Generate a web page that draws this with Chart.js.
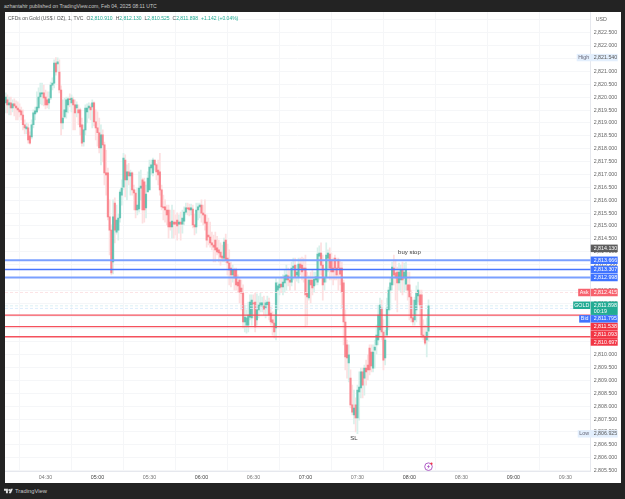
<!DOCTYPE html>
<html>
<head>
<meta charset="utf-8">
<title>CFDs on Gold</title>
<script src="https://cdn.jsdelivr.net/npm/chart.js@4/dist/chart.umd.min.js"></script>
<style>
    html, body { margin: 0; padding: 0; width: 625px; height: 499px; overflow: hidden; background: #232323; }
    body { position: relative; font-family: "Liberation Sans", sans-serif; }
    #published { position: absolute; left: 4px; top: 3px; font-size: 5.1px; line-height: 7px; color: #c8c8c8; white-space: nowrap; }
    #panel { position: absolute; left: 5px; top: 12px; width: 616px; height: 471px; background: #fff; }
    #legend { position: absolute; left: 8px; top: 15px; font-size: 5px; line-height: 7px; color: #555; white-space: nowrap; }
    #legend b { font-weight: normal; color: #22ab94; }
    #legend span { margin-left: 3px; }
    #brand { position: absolute; left: 4px; top: 487px; height: 8px; color: #c8c8c8; font-size: 5.8px; line-height: 8px; white-space: nowrap; }
    #brand svg { position: absolute; left: 0; top: 1px; }
    #brand span { position: absolute; left: 11px; top: 0; }
</style>
</head>
<body>
<div id="published">azhantahir published on TradingView.com, Feb 04, 2025 08:11 UTC</div>
<canvas id="panel" width="616" height="471"></canvas>
<div id="legend">CFDs on Gold (US$ / OZ), 1, TVC<span>O<b>2,810.910</b></span><span>H<b>2,812.130</b></span><span>L<b>2,810.525</b></span><span>C<b>2,811.898</b></span><span><b>+1.142 (+0.04%)</b></span></div>
<div id="brand">
    <svg width="10" height="6" viewBox="0 0 36 20"><path fill="#e0e0e0" d="M0 2h14v16H7V9H0zM17 18l7-16h8l-7 16z"/><circle cx="19" cy="6" r="3.6" fill="#e0e0e0"/></svg>
    <span>TradingView</span>
</div>

<script>
// one candle per minute, first one at 04:07
const firstMinute = 247;

const opens = [
    2819.78, 2819.90, 2819.70, 2819.78, 2819.58, 2819.74, 2819.66, 2819.58, 2819.51, 2819.47,
    2819.31, 2818.93, 2818.77, 2818.81, 2818.50, 2818.46, 2818.93, 2819.35, 2819.43, 2819.58,
    2820.01, 2820.13, 2820.17, 2820.01, 2819.90, 2819.78, 2819.97, 2820.47, 2820.55, 2821.33,
    2821.29, 2820.98, 2820.28, 2819.00, 2819.23, 2819.43, 2819.70, 2819.94, 2819.78, 2819.90,
    2819.70, 2819.58, 2819.51, 2819.51, 2818.93, 2818.26, 2818.73, 2819.43, 2819.58, 2819.62,
    2819.62, 2819.78, 2819.04, 2818.81, 2818.62, 2818.03, 2818.54, 2818.15, 2817.06, 2817.06,
    2815.35, 2814.84, 2813.60, 2815.89, 2814.76, 2814.84, 2815.31, 2816.20, 2816.51, 2817.56,
    2816.79, 2817.10, 2816.94, 2817.06, 2816.40, 2816.28, 2815.62, 2815.66, 2816.47, 2816.79,
    2816.71, 2815.70, 2816.32, 2816.40, 2817.25, 2817.06, 2817.56, 2817.37, 2817.17, 2817.10,
    2816.40, 2815.74, 2815.74, 2815.62, 2815.62, 2815.15, 2814.96, 2815.15, 2815.15, 2815.23,
    2815.07, 2815.15, 2815.07, 2815.19, 2815.54, 2815.70, 2815.70, 2815.62, 2815.66, 2815.04,
    2814.96, 2815.62, 2815.74, 2815.81, 2815.50, 2815.43, 2815.15, 2814.65, 2814.57, 2814.34,
    2814.26, 2814.45, 2814.15, 2814.07, 2813.99, 2813.83, 2813.75, 2814.45, 2813.75, 2813.56,
    2813.36, 2813.10, 2813.29, 2813.29, 2812.82, 2812.90, 2812.59, 2812.39, 2811.27, 2811.15,
    2811.15, 2811.46, 2811.43, 2812.01, 2812.04, 2811.35, 2811.74, 2811.89, 2811.89, 2811.89,
    2811.81, 2811.93, 2812.04, 2811.62, 2811.35, 2811.23, 2811.04, 2812.51, 2812.59, 2812.74,
    2812.63, 2812.79, 2812.90, 2813.06, 2812.90, 2812.82, 2813.36, 2813.48, 2813.10, 2813.02,
    2813.52, 2813.48, 2813.36, 2813.36, 2812.39, 2812.20, 2812.90, 2812.90, 2812.67, 2812.90,
    2812.82, 2813.83, 2813.95, 2813.48, 2812.82, 2813.02, 2813.75, 2813.91, 2813.68, 2813.36,
    2813.75, 2813.36, 2813.68, 2813.36, 2813.36, 2812.79, 2811.27, 2810.38, 2809.68, 2809.09,
    2808.05, 2807.66, 2808.05, 2807.54, 2808.55, 2808.71, 2809.33, 2809.09, 2809.48, 2809.60,
    2810.26, 2810.10, 2809.48, 2810.18, 2810.38, 2810.57, 2810.96, 2811.81, 2810.88, 2809.87,
    2810.76, 2811.74, 2812.51, 2812.71, 2813.36, 2813.18, 2813.21, 2812.79, 2812.90, 2813.29,
    2812.98, 2812.74, 2812.71, 2812.71, 2812.24, 2811.43, 2811.35, 2811.74, 2812.28, 2812.32,
    2812.32, 2810.76, 2810.69, 2810.57, 2810.91
];

const closes = [
    2820.01, 2819.70, 2819.78, 2819.58, 2819.74, 2819.66, 2819.58, 2819.51, 2819.43, 2819.31,
    2818.93, 2818.81, 2818.85, 2818.34, 2818.22, 2818.93, 2819.39, 2819.47, 2819.62, 2820.01,
    2820.17, 2820.17, 2819.97, 2819.70, 2819.70, 2819.94, 2820.47, 2820.55, 2821.33, 2820.98,
    2821.37, 2820.28, 2819.00, 2819.19, 2819.51, 2819.90, 2819.94, 2819.90, 2819.97, 2819.70,
    2819.39, 2819.70, 2819.39, 2818.85, 2818.22, 2818.73, 2819.58, 2819.58, 2819.66, 2819.51,
    2819.78, 2819.04, 2818.81, 2818.62, 2818.03, 2818.54, 2818.15, 2817.06, 2816.98, 2815.35,
    2814.84, 2813.18, 2815.35, 2814.84, 2815.23, 2815.31, 2816.32, 2816.47, 2817.64, 2816.79,
    2817.10, 2816.94, 2817.06, 2816.40, 2816.28, 2815.62, 2815.81, 2816.47, 2816.55, 2815.62,
    2815.62, 2816.24, 2816.86, 2817.29, 2817.37, 2817.56, 2817.37, 2817.10, 2816.98, 2816.40,
    2815.74, 2815.70, 2815.62, 2815.43, 2814.96, 2814.96, 2815.19, 2815.07, 2815.07, 2815.00,
    2815.15, 2815.07, 2815.31, 2815.54, 2815.70, 2815.66, 2815.62, 2815.70, 2815.04, 2814.96,
    2815.62, 2815.74, 2815.81, 2815.50, 2815.43, 2815.11, 2814.45, 2814.57, 2814.34, 2814.26,
    2814.18, 2814.07, 2813.99, 2813.95, 2813.79, 2813.75, 2814.37, 2813.68, 2813.56, 2813.29,
    2813.10, 2813.29, 2812.98, 2812.71, 2812.67, 2812.43, 2812.39, 2811.27, 2811.46, 2811.43,
    2811.54, 2812.04, 2812.12, 2811.97, 2811.08, 2811.74, 2811.93, 2812.01, 2812.01, 2811.77,
    2812.01, 2812.04, 2811.54, 2811.27, 2811.23, 2810.88, 2812.79, 2812.67, 2812.74, 2812.63,
    2812.82, 2813.06, 2813.10, 2812.90, 2812.82, 2813.36, 2813.44, 2813.02, 2813.21, 2813.52,
    2813.36, 2813.21, 2813.29, 2812.32, 2812.24, 2812.90, 2812.71, 2812.59, 2812.94, 2813.02,
    2813.91, 2813.95, 2813.48, 2812.71, 2812.98, 2813.87, 2813.95, 2813.36, 2813.21, 2813.21,
    2813.36, 2813.10, 2813.36, 2813.13, 2812.43, 2811.27, 2809.91, 2809.87, 2809.99, 2808.05,
    2807.77, 2807.93, 2807.54, 2808.63, 2808.74, 2809.33, 2808.82, 2809.48, 2809.33, 2809.41,
    2809.41, 2809.56, 2810.10, 2810.30, 2810.76, 2811.54, 2811.93, 2810.88, 2809.79, 2810.57,
    2811.81, 2812.51, 2812.79, 2813.40, 2813.10, 2812.98, 2812.79, 2813.21, 2813.29, 2812.90,
    2813.21, 2813.29, 2812.51, 2812.24, 2811.43, 2811.27, 2812.12, 2812.39, 2812.51, 2811.93,
    2810.76, 2810.69, 2810.45, 2810.88, 2811.898
];

const highs = [
    2820.17, 2820.09, 2820.01, 2820.01, 2819.90, 2819.94, 2819.86, 2819.82, 2819.74, 2819.62,
    2819.51, 2819.12, 2819.00, 2818.97, 2818.66, 2819.12, 2819.51, 2819.62, 2820.21, 2820.36,
    2820.55, 2820.55, 2820.47, 2820.28, 2820.21, 2820.21, 2820.59, 2820.75, 2821.45, 2821.54,
    2821.53, 2821.45, 2820.44, 2819.90, 2819.97, 2820.01, 2820.01, 2820.13, 2820.09, 2820.01,
    2819.90, 2819.82, 2819.70, 2819.58, 2819.19, 2818.93, 2819.70, 2819.74, 2819.78, 2819.74,
    2819.90, 2819.82, 2819.51, 2819.43, 2819.19, 2818.93, 2818.73, 2818.26, 2817.95, 2817.25,
    2816.01, 2815.04, 2816.01, 2816.09, 2815.81, 2815.46, 2816.40, 2816.79, 2817.82, 2817.76,
    2817.37, 2817.43, 2817.17, 2817.10, 2816.59, 2816.40, 2816.47, 2817.10, 2817.17, 2816.86,
    2816.86, 2816.59, 2817.10, 2817.56, 2817.56, 2817.64, 2817.56, 2817.43, 2817.56, 2817.82,
    2816.59, 2816.20, 2816.01, 2815.81, 2815.81, 2815.62, 2815.81, 2815.62, 2815.43, 2815.51,
    2815.43, 2815.54, 2815.62, 2815.74, 2815.89, 2815.89, 2815.85, 2815.85, 2815.81, 2815.46,
    2815.89, 2815.89, 2815.89, 2816.01, 2815.81, 2816.01, 2815.43, 2815.31, 2815.15, 2814.76,
    2814.65, 2814.76, 2814.60, 2814.45, 2814.34, 2814.26, 2814.53, 2814.68, 2814.30, 2814.07,
    2813.60, 2813.48, 2813.36, 2813.36, 2813.10, 2812.98, 2812.90, 2812.71, 2811.93, 2811.74,
    2812.04, 2812.32, 2812.32, 2812.32, 2812.39, 2812.36, 2812.28, 2812.39, 2812.24, 2812.28,
    2812.12, 2812.28, 2812.20, 2811.85, 2811.66, 2811.54, 2812.98, 2812.82, 2812.98, 2813.02,
    2813.10, 2813.29, 2813.48, 2813.36, 2813.29, 2813.60, 2813.75, 2813.75, 2813.48, 2813.75,
    2813.75, 2813.79, 2813.75, 2813.87, 2813.21, 2813.06, 2813.21, 2813.29, 2813.21, 2813.21,
    2814.15, 2814.23, 2814.34, 2813.87, 2813.36, 2814.34, 2814.07, 2814.15, 2813.95, 2813.75,
    2813.87, 2813.75, 2813.75, 2813.68, 2813.60, 2812.90, 2811.74, 2810.57, 2810.38, 2809.41,
    2808.82, 2808.63, 2808.32, 2808.82, 2809.33, 2809.48, 2809.48, 2809.60, 2809.79, 2809.99,
    2810.38, 2810.38, 2810.38, 2810.57, 2811.15, 2811.93, 2812.20, 2812.12, 2811.35, 2810.96,
    2812.20, 2812.63, 2812.98, 2813.60, 2813.87, 2813.68, 2813.40, 2813.56, 2813.48, 2813.60,
    2813.56, 2813.60, 2813.21, 2813.21, 2812.51, 2812.12, 2812.24, 2812.67, 2812.82, 2812.51,
    2812.51, 2811.35, 2811.15, 2811.43, 2812.13
];

const lows = [
    2819.39, 2819.39, 2819.31, 2819.31, 2819.43, 2819.27, 2819.12, 2819.12, 2819.23, 2819.12,
    2818.73, 2818.57, 2818.57, 2818.22, 2818.18, 2818.38, 2818.81, 2819.12, 2819.39, 2819.51,
    2819.74, 2819.70, 2819.66, 2819.55, 2819.58, 2819.55, 2819.90, 2820.28, 2820.36, 2820.86,
    2820.98, 2820.17, 2818.54, 2818.77, 2819.19, 2819.19, 2819.39, 2819.62, 2819.43, 2818.73,
    2818.73, 2819.23, 2818.93, 2818.54, 2818.10, 2818.10, 2818.54, 2819.00, 2819.19, 2819.12,
    2818.81, 2818.89, 2818.34, 2818.10, 2817.84, 2817.37, 2817.49, 2816.59, 2816.20, 2815.23,
    2813.87, 2813.10, 2813.14, 2814.34, 2814.68, 2814.45, 2815.15, 2815.81, 2816.40, 2816.13,
    2816.01, 2816.59, 2816.20, 2816.20, 2815.62, 2815.31, 2815.43, 2815.54, 2816.01, 2815.11,
    2815.15, 2815.31, 2816.32, 2816.40, 2816.98, 2816.94, 2817.17, 2816.79, 2816.59, 2816.20,
    2815.62, 2815.23, 2815.15, 2815.04, 2814.53, 2814.84, 2814.53, 2814.53, 2814.65, 2814.45,
    2814.72, 2814.45, 2814.72, 2815.04, 2815.46, 2815.43, 2815.39, 2815.43, 2814.92, 2814.65,
    2814.72, 2815.23, 2815.31, 2815.15, 2815.04, 2814.84, 2814.18, 2814.26, 2814.18, 2814.07,
    2813.60, 2813.60, 2813.87, 2813.60, 2813.48, 2813.60, 2813.60, 2813.56, 2813.10, 2812.71,
    2812.63, 2812.82, 2812.51, 2812.51, 2812.43, 2812.01, 2811.74, 2811.04, 2810.88, 2810.84,
    2810.88, 2811.35, 2811.15, 2811.43, 2810.88, 2811.15, 2811.43, 2811.66, 2811.66, 2811.54,
    2811.43, 2811.54, 2811.35, 2811.15, 2810.76, 2810.65, 2810.57, 2811.74, 2812.32, 2812.43,
    2812.32, 2812.43, 2812.51, 2812.67, 2812.51, 2812.67, 2812.90, 2812.51, 2812.86, 2812.79,
    2813.10, 2812.90, 2812.82, 2811.08, 2811.15, 2812.12, 2812.01, 2812.32, 2812.43, 2812.71,
    2812.71, 2812.90, 2813.10, 2812.12, 2812.51, 2812.82, 2813.21, 2812.90, 2812.90, 2812.71,
    2812.90, 2812.90, 2812.51, 2812.71, 2811.81, 2810.38, 2809.41, 2809.09, 2808.94, 2807.93,
    2807.66, 2807.31, 2807.00, 2806.93, 2807.46, 2808.32, 2808.32, 2808.43, 2808.82, 2809.02,
    2809.21, 2809.33, 2809.33, 2809.48, 2810.03, 2810.38, 2810.73, 2810.57, 2809.41, 2809.60,
    2810.76, 2810.96, 2811.74, 2812.51, 2812.71, 2812.12, 2811.66, 2812.51, 2812.43, 2812.32,
    2812.43, 2812.51, 2812.12, 2811.35, 2811.27, 2811.15, 2811.15, 2811.27, 2812.04, 2811.15,
    2810.65, 2810.57, 2810.38, 2809.91, 2810.525
];

const bluePrices = [2813.666, 2813.307, 2812.998];
const redPrices = [2811.538, 2811.093, 2810.697];
const lastPrice = 2811.898;
const askPrice = 2812.415;
const bidPrice = 2811.795;
const prevClose = 2814.13;
const highPrice = 2821.54;
const lowPrice = 2806.925;
const countdown = "00:19";

const UP = "rgba(34, 171, 148, 0.62)";
const DOWN = "rgba(247, 82, 95, 0.62)";
const xMin = 246.63;
const xMax = 584.6;

const minutes = opens.map(function (_, i) { return firstMinute + i; });
const isUp = opens.map(function (o, i) { return closes[i] >= o; });

function money(v) {
    return v.toLocaleString("en-US", { minimumFractionDigits: 3, maximumFractionDigits: 3 });
}

function clock(m) {
    let h = Math.floor(m / 60);
    let mm = m % 60;
    return String(h).padStart(2, "0") + ":" + String(mm).padStart(2, "0");
}

function level(price, color, width, dash) {
    return {
        type: "line",
        data: [{ x: xMin, y: price }, { x: xMax, y: price }],
        borderColor: color,
        borderWidth: width,
        borderDash: dash || [],
        pointRadius: 0,
        order: 0
    };
}

// price tags on the right axis, pushed down when they would overlap
const axisTags = [
    { price: prevClose, bg: "#5d5d5d", fg: "#fff" },
    { price: bluePrices[0], bg: "#3f73ff", fg: "#fff" },
    { price: bluePrices[1], bg: "#3f73ff", fg: "#fff" },
    { price: bluePrices[2], bg: "#3f73ff", fg: "#fff" },
    { price: askPrice, bg: "#f7626e", fg: "#fff", side: "Ask", sideWidth: 12 },
    { price: lastPrice, bg: "#22ab94", fg: "#fff", side: "GOLD", sideWidth: 17, extra: countdown },
    { price: bidPrice, bg: "#3f73ff", fg: "#fff", side: "Bid", sideWidth: 11 },
    { price: redPrices[0], bg: "#f23645", fg: "#fff" },
    { price: redPrices[1], bg: "#f23645", fg: "#fff" },
    { price: redPrices[2], bg: "#f23645", fg: "#fff" }
];

const extremeTags = [
    { price: highPrice, side: "High", sideWidth: 14 },
    { price: lowPrice, side: "Low", sideWidth: 13 }
];

const priceTags = {
    id: "priceTags",
    afterDraw: function (chart) {
        let ctx = chart.ctx;
        let y = chart.scales.y;
        let x = chart.scales.x;
        let left = chart.chartArea.right;
        let w = 27;
        ctx.save();
        ctx.textBaseline = "middle";
        ctx.font = "5.3px 'Liberation Sans'";

        // cut the axis labels off where the time axis begins, and cover the top one with the currency box
        ctx.fillStyle = "#fff";
        ctx.fillRect(left + 0.5, chart.chartArea.bottom + 0.5, 30, 11);
        ctx.fillRect(left + 1, 0, 30, 13);
        ctx.fillStyle = "#666";
        ctx.textAlign = "left";
        ctx.fillText("USD", left + 5, 7.5);

        extremeTags.forEach(function (t) {
            let py = y.getPixelForValue(t.price);
            ctx.fillStyle = "#e3effd";
            ctx.fillRect(left - t.sideWidth, py - 3.7, t.sideWidth + w, 7.4);
            ctx.fillStyle = "#667";
            ctx.textAlign = "center";
            ctx.fillText(t.side, left - t.sideWidth / 2, py);
            ctx.textAlign = "left";
            ctx.fillStyle = "#555";
            ctx.fillText(money(t.price), left + 3, py);
        });

        let bottom = -100;
        axisTags.forEach(function (t) {
            let h = t.extra ? 13.4 : 7.5;
            let top = y.getPixelForValue(t.price) - (t.extra ? 4.3 : h / 2);
            if (top < bottom) top = bottom;
            ctx.fillStyle = t.bg;
            ctx.fillRect(left, top, w, h);
            ctx.fillStyle = t.fg;
            ctx.textAlign = "left";
            ctx.fillText(money(t.price), left + 3, top + 3.9);
            if (t.extra) ctx.fillText(t.extra, left + 3, top + 10);
            if (t.side) {
                ctx.fillStyle = t.bg;
                ctx.fillRect(left - t.sideWidth - 0.5, top, t.sideWidth, 7.5);
                ctx.fillStyle = t.fg;
                ctx.textAlign = "center";
                ctx.fillText(t.side, left - t.sideWidth / 2 - 0.5, top + 3.9);
            }
            bottom = top + h + 0.2;
        });

        // notes placed on the chart
        ctx.fillStyle = "#3a3a3a";
        ctx.font = "6px 'Liberation Sans'";
        ctx.textAlign = "center";
        ctx.fillText("buy stop", x.getPixelForValue(480), y.getPixelForValue(2813.97));
        ctx.fillText("SL", x.getPixelForValue(448), y.getPixelForValue(2806.75));

        // lightning badge under the last candle
        let cx = x.getPixelForValue(491);
        let cy = y.getPixelForValue(2805.65);
        ctx.strokeStyle = "#a64bc0";
        ctx.lineWidth = 0.9;
        ctx.beginPath();
        ctx.arc(cx, cy, 3.8, 0, Math.PI * 2);
        ctx.stroke();
        ctx.fillStyle = "#a64bc0";
        ctx.beginPath();
        ctx.moveTo(cx + 1, cy - 2.4);
        ctx.lineTo(cx - 1.6, cy + 0.4);
        ctx.lineTo(cx - 0.1, cy + 0.4);
        ctx.lineTo(cx - 1, cy + 2.4);
        ctx.lineTo(cx + 1.6, cy - 0.5);
        ctx.lineTo(cx + 0.1, cy - 0.5);
        ctx.closePath();
        ctx.fill();
        ctx.fillStyle = "#f23645";
        ctx.beginPath();
        ctx.arc(cx + 3, cy - 3, 1.1, 0, Math.PI * 2);
        ctx.fill();
        ctx.restore();
    }
};

new Chart(document.getElementById("panel"), {
    type: "bar",
    data: {
        datasets: [
            level(bluePrices[0], "#7ba0ff", 2),
            level(bluePrices[1], "#4775ff", 1.5),
            level(bluePrices[2], "#7ba0ff", 2),
            level(askPrice, "#fbdde0", 0.8, [3, 2]),
            level(lastPrice, "#d3eef0", 0.8, [3, 2]),
            level(bidPrice, "#d6e8fb", 0.8, [3, 2]),
            level(redPrices[0], "#f4515d", 1.3),
            level(redPrices[1], "#f4515d", 1.3),
            level(redPrices[2], "#f4515d", 1.3),
            {
                data: minutes.map(function (m, i) { return { x: m, y: [opens[i], closes[i]] }; }),
                backgroundColor: isUp.map(function (u) { return u ? UP : DOWN; }),
                barThickness: 1.5,
                grouped: false,
                order: 1
            },
            {
                data: minutes.map(function (m, i) { return { x: m, y: [lows[i], highs[i]] }; }),
                backgroundColor: isUp.map(function (u) { return u ? "#d9f1ec" : "#fde0e1"; }),
                barThickness: 1.1,
                grouped: false,
                order: 2
            }
        ]
    },
    options: {
        responsive: false,
        animation: false,
        layout: { padding: 0 },
        plugins: { legend: { display: false }, tooltip: { enabled: false } },
        events: [],
        scales: {
            x: {
                type: "linear",
                min: xMin,
                max: xMax,
                offset: false,
                afterFit: function (scale) {
                    scale.height = 11.3;
                    scale.paddingLeft = 0;
                    scale.paddingRight = 0;
                },
                grid: { color: "#f5f6f8", lineWidth: 1, drawTicks: false },
                border: { color: "#e6e8ee" },
                ticks: {
                    stepSize: 30,
                    includeBounds: false,
                    autoSkip: false,
                    maxRotation: 0,
                    padding: 3,
                    font: { family: "Liberation Sans", size: 5.3 },
                    color: function (c) { return c.tick.value % 60 == 0 ? "#444" : "#777"; },
                    callback: function (v) { return clock(v); }
                }
            },
            y: {
                position: "right",
                min: 2805.455,
                max: 2823.31,
                afterFit: function (scale) {
                    scale.width = 30.3;
                    scale.paddingTop = 0;
                    scale.paddingBottom = 0;
                },
                grid: { color: "#f5f6f8", lineWidth: 1, drawTicks: false },
                border: { color: "#e6e8ee" },
                ticks: {
                    stepSize: 0.5,
                    includeBounds: false,
                    autoSkip: false,
                    padding: 3,
                    font: { family: "Liberation Sans", size: 5.3 },
                    color: "#666",
                    callback: function (v) { return money(v); }
                }
            }
        }
    },
    plugins: [priceTags]
});
</script>
</body>
</html>
